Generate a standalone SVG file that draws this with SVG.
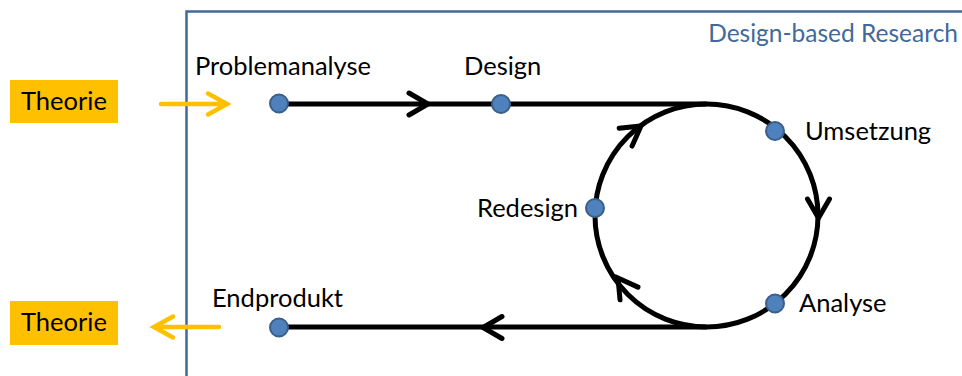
<svg xmlns="http://www.w3.org/2000/svg" width="962" height="376" viewBox="0 0 962 376">
<style>
text{font-family:Lato,"Open Sans","Liberation Sans",sans-serif;font-size:25.5px;fill:#000}
.dot{fill:#4F81BD;stroke:#3A5F8B;stroke-width:2}
.flow{fill:none;stroke:#000;stroke-width:5}
.chev{fill:none;stroke:#000;stroke-width:5;stroke-linecap:round;stroke-linejoin:miter}
.oarrow{fill:none;stroke:#FFC000;stroke-width:4.5;stroke-linecap:round;stroke-linejoin:miter}
.theo{fill:#FFC000}
</style>
<defs>
<path id="chv" d="M-19,-11 L0,0 L-19,11"/>
</defs>
<rect width="962" height="376" fill="#fff"/>
<g id="frame">
<path d="M186.5,380 V11.5 H970" fill="none" stroke="#41699A" stroke-width="2.5"/>
<text x="958" y="42" text-anchor="end" style="fill:#41699A;font-size:24.5px">Design-based Research</text>
</g>
<g id="theorie-in">
<rect class="theo" x="10" y="80" width="108" height="43"/>
<text x="21" y="110">Theorie</text>
</g>
<g id="theorie-out">
<rect class="theo" x="10" y="301" width="108" height="44"/>
<text x="21" y="331">Theorie</text>
</g>
<g id="connectors">
<path class="oarrow" d="M161,104 H226 M208,93.5 L227,104 L208,114.5"/>
<path class="oarrow" d="M219,327 H155 M173,316.5 L154,327 L173,337.5"/>
<path class="flow" d="M279,104 H706.5 M706.5,327 H279"/>
<circle class="flow" cx="706.5" cy="215.5" r="111.5"/>
<use href="#chv" class="chev" transform="translate(428,104)"/>
<use href="#chv" class="chev" transform="translate(818.5,218) rotate(90)"/>
<use href="#chv" class="chev" transform="translate(483,327.5) rotate(180)"/>
<use href="#chv" class="chev" transform="translate(641,126) rotate(-36)"/>
<use href="#chv" class="chev" transform="translate(618,278) rotate(234.6)"/>
</g>
<g id="problemanalyse">
<circle class="dot" cx="279" cy="103.5" r="9"/>
<text x="195" y="75">Problemanalyse</text>
</g>
<g id="design">
<circle class="dot" cx="501" cy="104" r="9"/>
<text x="464" y="75">Design</text>
</g>
<g id="umsetzung">
<circle class="dot" cx="775" cy="131" r="9"/>
<text x="805" y="140">Umsetzung</text>
</g>
<g id="analyse">
<circle class="dot" cx="775" cy="303.5" r="9"/>
<text x="799" y="312">Analyse</text>
</g>
<g id="redesign">
<circle class="dot" cx="595" cy="208" r="9"/>
<text x="477" y="217">Redesign</text>
</g>
<g id="endprodukt">
<circle class="dot" cx="279" cy="327.5" r="9"/>
<text x="212" y="307">Endprodukt</text>
</g>
</svg>
